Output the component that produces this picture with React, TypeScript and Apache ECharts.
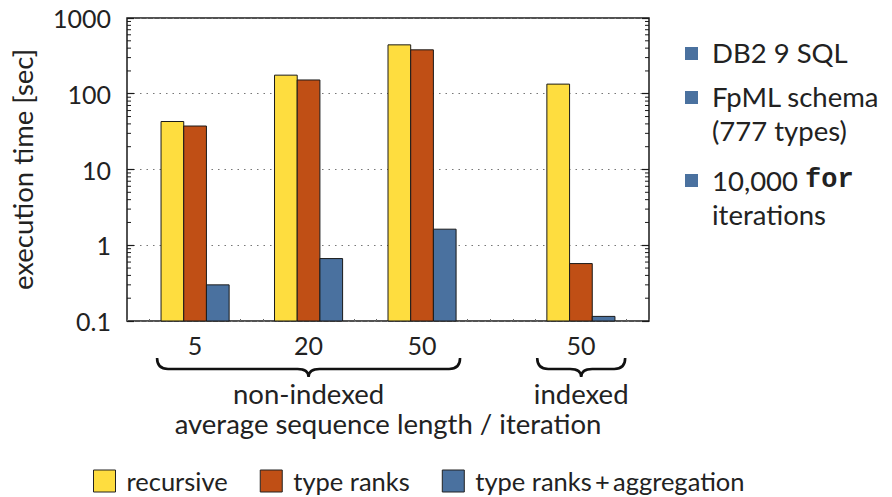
import React, { useEffect, useRef } from "react";
import * as echarts from "echarts";

const FONT = "Lato";
const FS = 27.5;
const LEGEND_FS = 25.5;
const NUM_FS = 25;
const GROUP_POS = [1, 2, 3, 4.4];
const X_LABELS = ["5", "20", "50", "50"];
const SERIES_NAMES = ["recursive", "type ranks", "type ranks\u2009+\u2009aggregation"];
const RECURSIVE = [43, 176, 442, 134];
const TYPE_RANKS = [37.5, 152, 380, 0.573];
const TYPE_RANKS_AGG = [0.3, 0.667, 1.63, 0.115];
const COLORS = ["#FEDD3F", "#C04F15", "#4A719F"];
const Y_MIN = 0.1;
const Y_MAX = 1000;
const X_MIN = 0.4;
const X_MAX = 5.0;
const BAR_W = 0.2;
const MINOR_VALUES = [-1, 0, 1, 2].flatMap((d) =>
  [2, 3, 4, 5, 6, 7, 8, 9].map((m) => Number((m * Math.pow(10, d)).toPrecision(3)))
);
const BRACE_RANGES = [
  [0.665, 3.335],
  [4.015, 4.79],
];
const BRACE_LABELS = ["non-indexed", "indexed"];
const SIDE_NOTES = [
  { lines: ["DB2 9 SQL"], y: [52] },
  { lines: ["FpML schema", "(777 types)"], y: [96, 130] },
  { lines: ["10,000 {m|for}", "iterations"], y: [180, 214] },
];
const SIDE_SQUARES_Y = [47, 91, 174];

function barSeries(idx: number, values: number[]) {
  const offset = (idx - 1) * BAR_W;
  const color = COLORS[idx];
  return {
    type: "custom",
    name: SERIES_NAMES[idx],
    itemStyle: { color },
    encode: { x: 0, y: 1 },
    data: GROUP_POS.map((p, i) => [p, values[i]]),
    renderItem: (params: any, api: any) => {
      const x = api.value(0);
      const v = api.value(1);
      const tl = api.coord([x + offset - BAR_W / 2, v]);
      const br = api.coord([x + offset + BAR_W / 2, Y_MIN]);
      return {
        type: "rect",
        shape: { x: tl[0], y: tl[1], width: br[0] - tl[0], height: br[1] - tl[1] },
        style: { fill: color, stroke: "#1a1a1a", lineWidth: 1 },
      };
    },
  };
}

export default function App() {
  const ref = useRef<HTMLDivElement>(null);
  useEffect(() => {
    if (!ref.current) return;
    const chart = echarts.init(ref.current, null, { renderer: "svg" });
    const graphics: any[] = [];
    SIDE_SQUARES_Y.forEach((y) => {
      graphics.push({
        type: "rect",
        shape: { x: 685, y, width: 13, height: 13 },
        style: { fill: COLORS[2] },
      });
    });
    SIDE_NOTES.forEach((n) => {
      n.lines.forEach((line, i) => {
        graphics.push({
          type: "text",
          x: 712,
          y: n.y[i],
          style: {
            text: line,
            fontSize: FS,
            fontFamily: FONT,
            fill: "#222",
            verticalAlign: "middle",
            rich: {
              m: { fontFamily: "Liberation Mono", fontSize: 27, fontWeight: "bold", fill: "#222" },
            },
          },
        });
      });
    });

    chart.setOption({
      animation: false,
      textStyle: { fontFamily: FONT },
      grid: {
        left: 127,
        right: 243,
        top: 18,
        bottom: 176,
        show: true,
        borderColor: "#1a1a1a",
        borderWidth: 1.5,
        backgroundColor: "transparent",
      },
      legend: {
        data: SERIES_NAMES,
        left: 93,
        top: 468,
        padding: 0,
        itemWidth: 22,
        itemHeight: 22,
        itemGap: 32,
        icon: "rect",
        selectedMode: false,
        itemStyle: { borderColor: "#222", borderWidth: 1 },
        textStyle: { fontSize: LEGEND_FS, fontFamily: FONT, color: "#222", padding: [0, 0, 0, 6] },
      },
      xAxis: {
        type: "value",
        min: X_MIN,
        max: X_MAX,
        interval: 0.2,
        name: "average sequence length / iteration",
        nameLocation: "middle",
        nameGap: 88,
        nameTextStyle: { fontSize: FS, fontFamily: FONT, color: "#222" },
        axisLine: { show: false },
        axisTick: { show: true, inside: true, length: 2, lineStyle: { color: "#666" } },
        splitLine: { show: false },
        axisLabel: {
          fontSize: NUM_FS,
          fontFamily: FONT,
          color: "#222",
          margin: 11,
          formatter: (v: number) => {
            const i = GROUP_POS.findIndex((p) => Math.abs(p - v) < 1e-6);
            return i >= 0 ? X_LABELS[i] : "";
          },
        },
      },
      yAxis: [
        {
          type: "log",
          logBase: 10,
          min: Y_MIN,
          max: Y_MAX,
          name: "execution time [sec]",
          nameLocation: "middle",
          nameGap: 91,
          nameTextStyle: { fontSize: FS, fontFamily: FONT, color: "#222" },
          axisLine: { show: false },
          axisTick: { show: true, inside: true, length: 7, lineStyle: { color: "#1a1a1a", width: 1.2 } },
          axisLabel: {
            fontSize: NUM_FS,
            fontFamily: FONT,
            color: "#222",
            margin: 16,
            formatter: (v: number) => String(Number(v.toPrecision(3))),
          },
          splitLine: {
            show: true,
            lineStyle: { color: "#777", type: [1.5, 5], width: 1.2 },
          },
        },
        {
          type: "log",
          logBase: 10,
          min: Y_MIN,
          max: Y_MAX,
          position: "right",
          axisLine: { show: false },
          axisTick: { show: true, inside: true, length: 7, lineStyle: { color: "#1a1a1a", width: 1.2 } },
          axisLabel: { show: false },
          splitLine: { show: false },
        },
      ],
      series: [
        barSeries(0, RECURSIVE),
        barSeries(1, TYPE_RANKS),
        barSeries(2, TYPE_RANKS_AGG),
        {
          type: "custom",
          name: "minorTicks",
          silent: true,
          encode: { x: 0, y: 1 },
          data: MINOR_VALUES.map((v) => [X_MIN, v]),
          renderItem: (params: any, api: any) => {
            const v = api.value(1);
            const l = api.coord([X_MIN, v]);
            const r = api.coord([X_MAX, v]);
            return {
              type: "group",
              children: [
                { type: "line", shape: { x1: l[0], y1: l[1], x2: l[0] + 4, y2: l[1] }, style: { stroke: "#1a1a1a", lineWidth: 1 } },
                { type: "line", shape: { x1: r[0], y1: r[1], x2: r[0] - 4, y2: r[1] }, style: { stroke: "#1a1a1a", lineWidth: 1 } },
              ],
            };
          },
        },
        {
          type: "custom",
          name: "braces",
          silent: true,
          encode: { x: [0, 1] },
          data: BRACE_RANGES,
          renderItem: (params: any, api: any) => {
            const a = api.coord([api.value(0), Y_MIN]);
            const b = api.coord([api.value(1), Y_MIN]);
            const x0 = a[0];
            const x1 = b[0];
            const base = a[1];
            const xm = (x0 + x1) / 2;
            const y0 = base + 37;
            const y1 = base + 48;
            const y2 = base + 56;
            const r = 11;
            const d = `M${x0},${y0} Q${x0},${y1} ${x0 + r},${y1} L${xm - r},${y1} Q${xm},${y1} ${xm},${y2} Q${xm},${y1} ${xm + r},${y1} L${x1 - r},${y1} Q${x1},${y1} ${x1},${y0}`;
            return {
              type: "group",
              children: [
                { type: "path", shape: { pathData: d }, style: { fill: "none", stroke: "#111", lineWidth: 2.6 } },
                {
                  type: "text",
                  style: {
                    text: BRACE_LABELS[params.dataIndex],
                    x: xm,
                    y: base + 72,
                    align: "center",
                    verticalAlign: "middle",
                    fontSize: FS,
                    fontFamily: FONT,
                    fill: "#222",
                  },
                },
              ],
            };
          },
        },
      ],
      graphic: graphics,
    });
    return () => chart.dispose();
  }, []);
  return (
    <div
      ref={ref}
      style={{ position: "fixed", left: 0, top: 0, width: 892, height: 497, background: "#fff" }}
    />
  );
}
